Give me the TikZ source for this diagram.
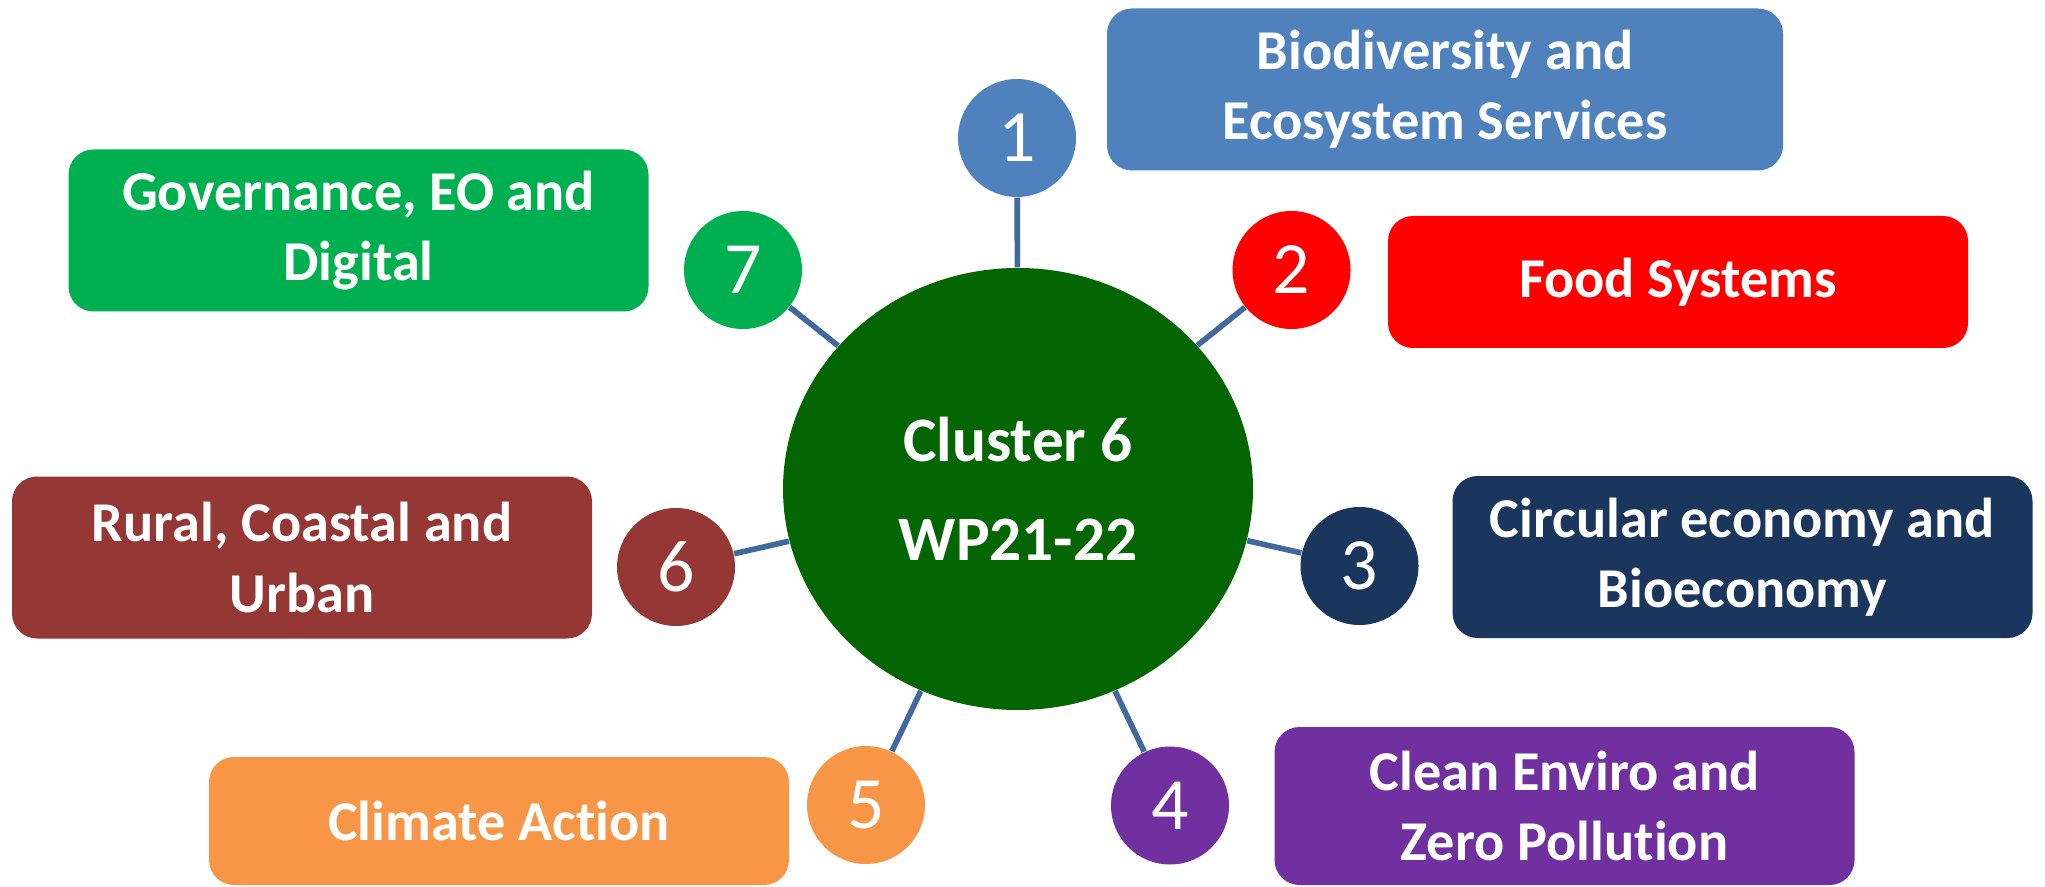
\documentclass[tikz,border=0pt]{standalone}
\usepackage{fontspec}
\setmainfont{Carlito}[Ligatures=NoCommon]
\usepackage{tikz}
\usepackage{xcolor}
\usetikzlibrary{shapes}
\usetikzlibrary{positioning}

\definecolor{hubgreen}{HTML}{036603}
\definecolor{linkblue}{RGB}{65,105,158}
\definecolor{cBio}{HTML}{4F81BD}
\definecolor{cFood}{HTML}{FF0000}
\definecolor{cCirc}{HTML}{1B365D}
\definecolor{cClean}{HTML}{7030A0}
\definecolor{cClim}{HTML}{F79646}
\definecolor{cRural}{HTML}{953735}
\definecolor{cGov}{HTML}{00B050}

\begin{document}
\begin{tikzpicture}[
  hub/.style={ellipse, fill=hubgreen, text=white, inner sep=0pt,
    minimum width=4.70cm, minimum height=4.42cm, align=center,
    font=\fontsize{18}{28}\selectfont\bfseries},
  num/.style={circle, fill=#1, text=white, inner sep=0pt, minimum size=1.18cm,
    font=\fontsize{21}{24}\selectfont},
  topic/.style={rectangle, rounded corners=0.25cm, fill=#1, text=white,
    inner sep=0pt, minimum width=5.80cm, minimum height=1.62cm, align=center,
    font=\fontsize{16}{20}\selectfont\bfseries},
  link/.style={draw=linkblue, line width=1.6pt}
]
  \useasboundingbox (0,0) rectangle (20.45,8.86);

  \node[hub] (hub) at (10.18,3.97) {Cluster 6\\WP21-22};

  \node[num=cBio]   (n1) at (10.17,7.48) {1};
  \node[num=cFood]  (n2) at (12.915,6.16) {2};
  \node[num=cCirc]  (n3) at (13.595,3.20) {3};
  \node[num=cClean] (n4) at (11.70,0.805) {4};
  \node[num=cClim]  (n5) at (8.66,0.81) {5};
  \node[num=cRural] (n6) at (6.76,3.19) {6};
  \node[num=cGov]   (n7) at (7.43,6.16) {7};

  \node[topic=cBio, minimum width=6.76cm]   (b1) at (14.45,7.965) {Biodiversity and\\Ecosystem Services};
  \node[topic=cFood, minimum height=1.32cm] (b2) at (16.78,6.04) {Food Systems};
  \node[topic=cCirc]  (b3) at (17.425,3.29) {Circular economy and\\Bioeconomy};
  \node[topic=cClean, minimum height=1.58cm] (b4) at (15.645,0.80) {Clean Enviro and\\Zero Pollution};
  \node[topic=cClim, minimum height=1.28cm]  (b5) at (4.99,0.65) {Climate Action};
  \node[topic=cRural] (b6) at (3.02,3.285) {Rural, Coastal and\\Urban};
  \node[topic=cGov]   (b7) at (3.585,6.555) {Governance, EO and\\Digital};

  \foreach \i in {1,...,7} {
    \draw[link] (hub) -- (n\i);
  }

\end{tikzpicture}
\end{document}
